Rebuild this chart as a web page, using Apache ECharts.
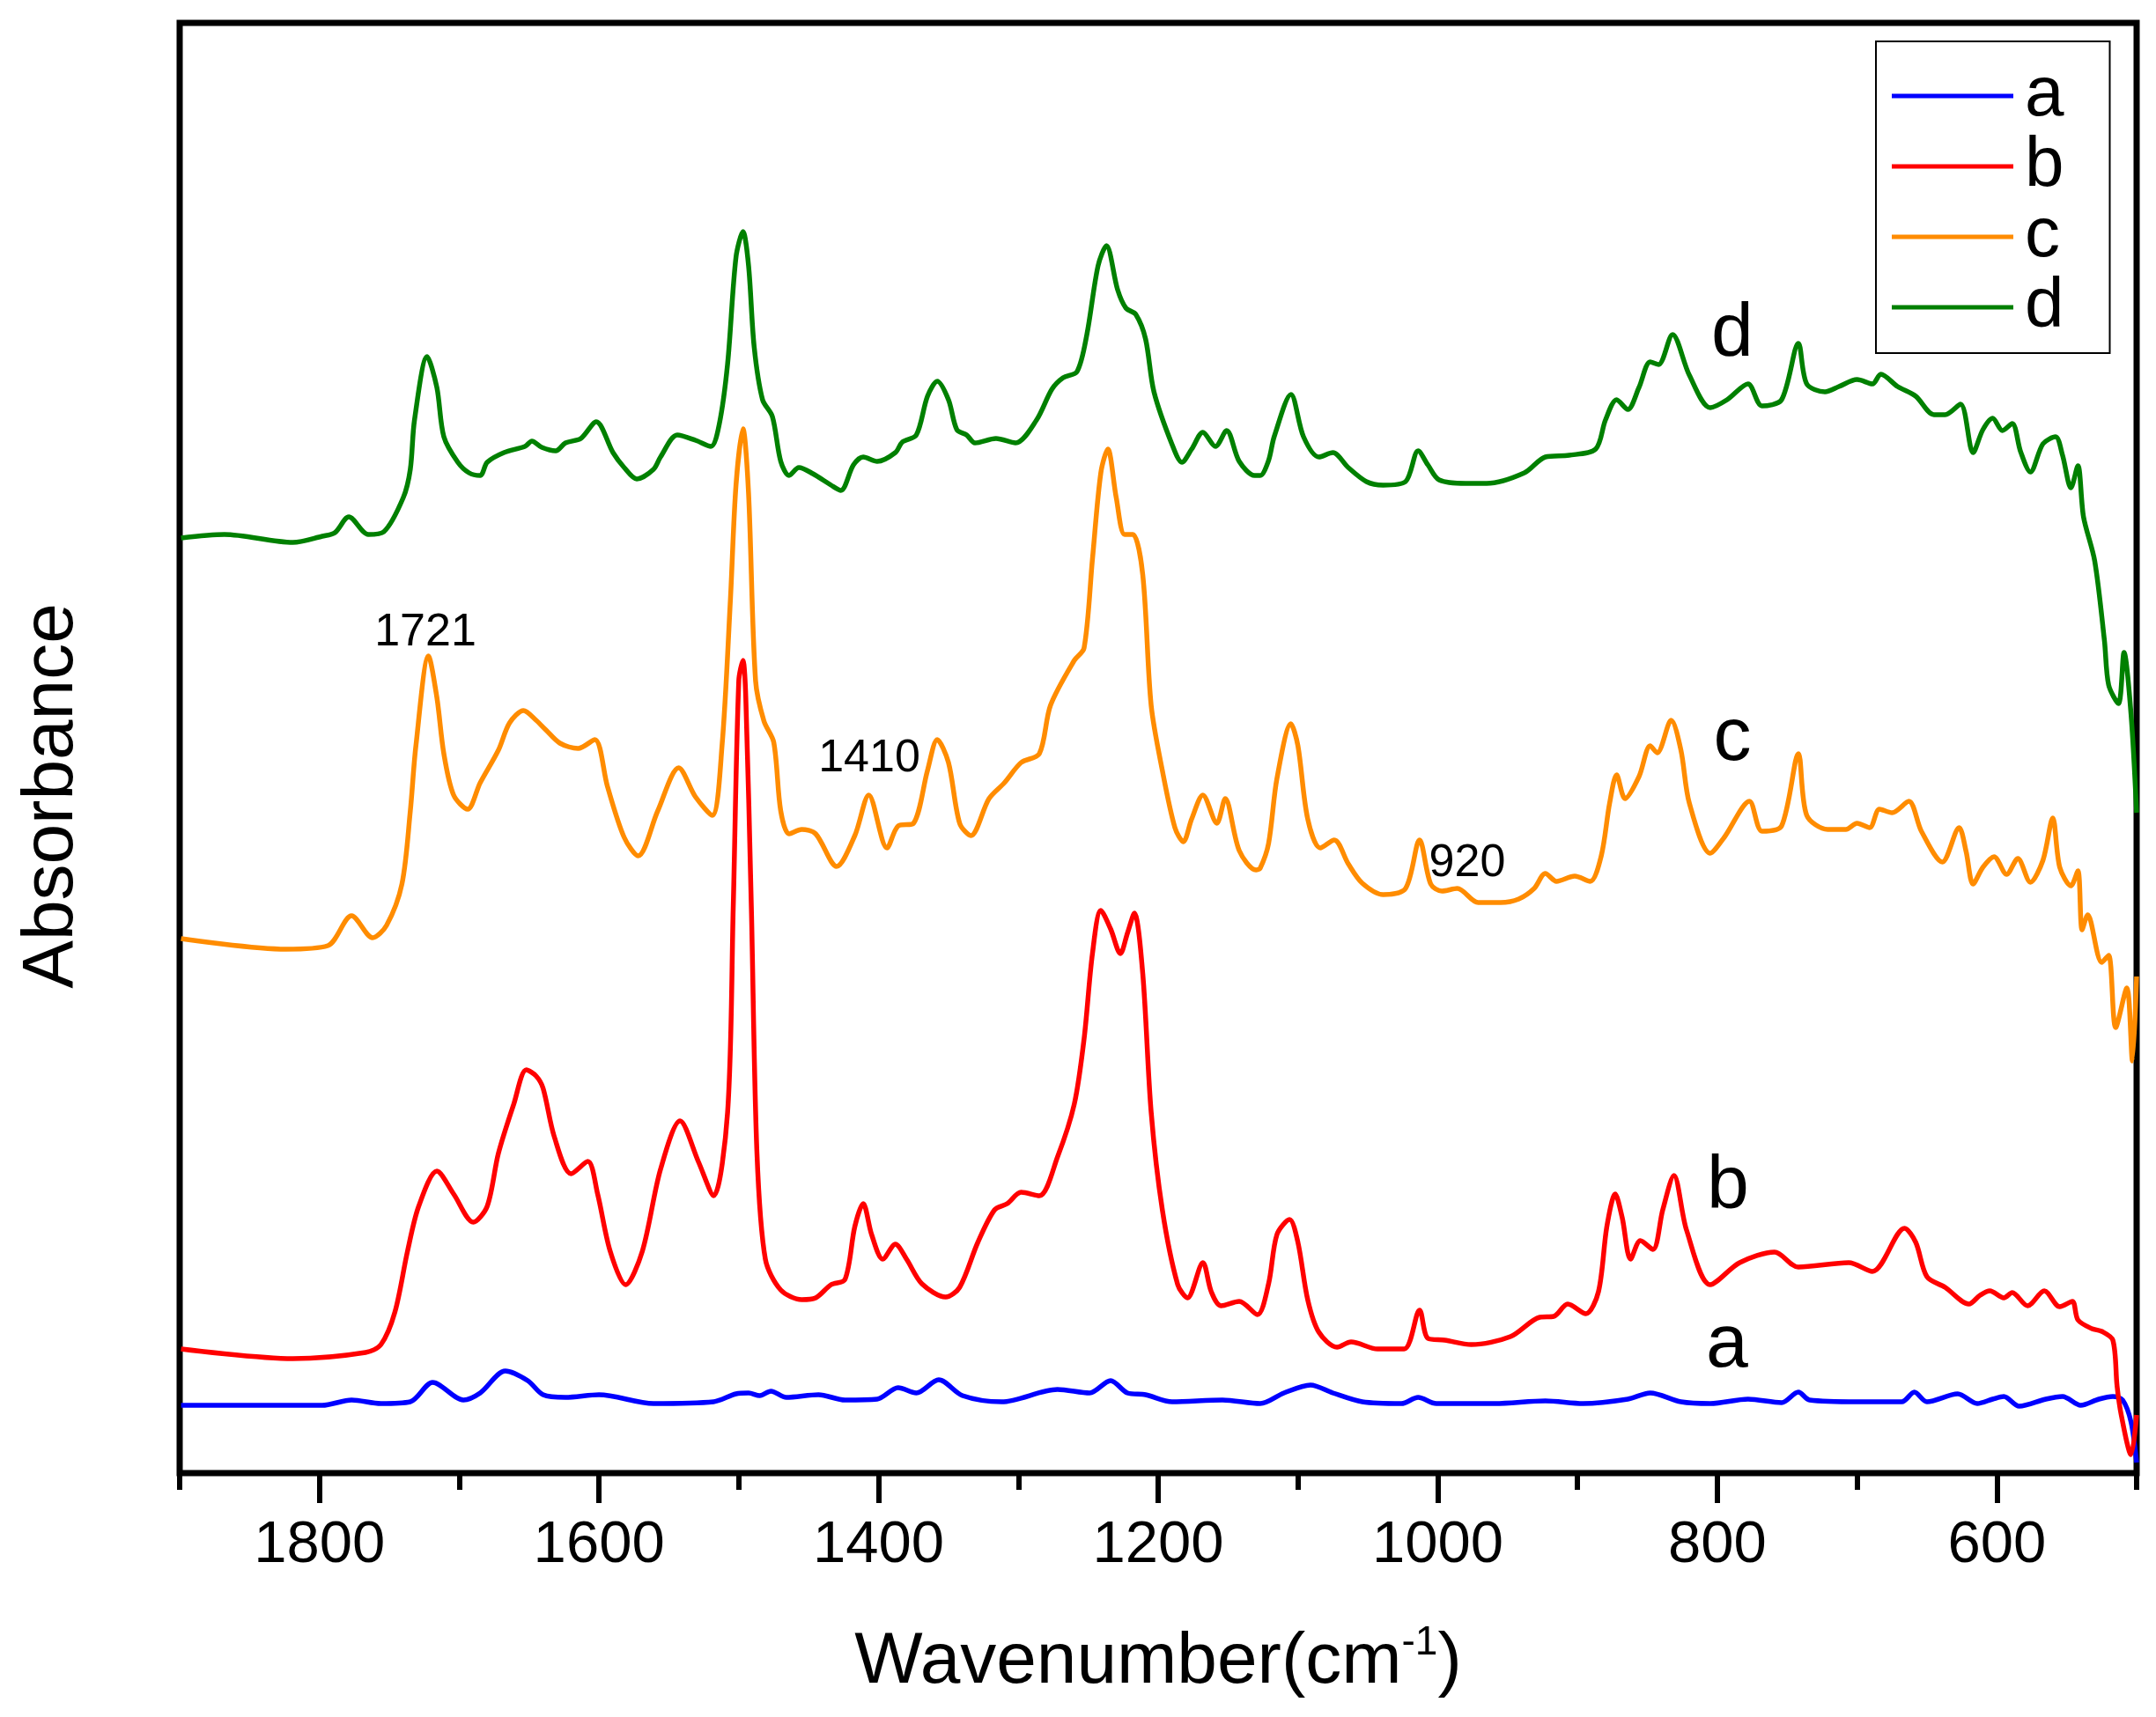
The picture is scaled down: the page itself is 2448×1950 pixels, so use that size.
<!DOCTYPE html>
<html>
<head>
<meta charset="utf-8">
<script src="https://cdn.jsdelivr.net/npm/echarts@6/dist/echarts.min.js"></script>
<style>html,body{margin:0;padding:0;background:#fff}#chart{width:2448px;height:1950px}</style>
</head>
<body>
<div id="chart"></div>
<script>
// ---- data (wavenumber cm-1, absorbance arbitrary units, offset traces) ----
const seriesNames = ['a', 'b', 'c', 'd'];
const seriesColors = ['#0000ff', '#ff0000', '#ff8c00', '#008000'];
const xTickLabels = [1800, 1600, 1400, 1200, 1000, 800, 600];
const xMinorTicks = [1900, 1700, 1500, 1300, 1100, 900, 700, 500];

const specA = [
[1899,0.077],[1798,0.077],[1777,0.083],[1756,0.079],[1735,0.081],[1719,0.103],[1697,0.083],[1685,0.091],
[1667,0.116],[1651,0.105],[1640,0.089],[1624,0.086],[1600,0.089],[1561,0.079],[1518,0.081],[1502,0.090],
[1493,0.091],[1485,0.088],[1477,0.093],[1466,0.086],[1443,0.089],[1424,0.083],[1401,0.084],[1386,0.097],
[1373,0.091],[1357,0.106],[1340,0.088],[1312,0.081],[1272,0.095],[1249,0.091],[1234,0.105],[1222,0.091],
[1209,0.089],[1190,0.081],[1154,0.083],[1127,0.079],[1110,0.091],[1091,0.100],[1075,0.091],[1054,0.081],
[1026,0.079],[1014,0.086],[1001,0.079],[959,0.079],[923,0.082],[896,0.079],[864,0.084],[848,0.091],
[826,0.081],[805,0.079],[778,0.084],[754,0.080],[742,0.092],[734,0.083],[700,0.081],[668,0.081],
[659,0.092],[650,0.081],[628,0.090],[614,0.079],[603,0.084],[595,0.087],[584,0.076],[565,0.084],
[553,0.087],[540,0.077],[527,0.084],[517,0.087],[510,0.083],[504,0.058],[500,0.012]
];

const specB = [
[1899,0.141],[1819,0.130],[1767,0.137],[1756,0.146],[1746,0.183],[1737,0.252],[1729,0.303],[1716,0.343],
[1704,0.317],[1690,0.285],[1680,0.303],[1672,0.363],[1661,0.419],[1652,0.458],[1645,0.451],[1640,0.437],
[1632,0.382],[1620,0.340],[1608,0.354],[1601,0.317],[1592,0.252],[1581,0.214],[1569,0.252],[1556,0.345],
[1542,0.400],[1529,0.354],[1518,0.315],[1508,0.410],[1504,0.641],[1500,0.900],[1497,0.923],[1495,0.881],
[1491,0.641],[1487,0.363],[1481,0.243],[1470,0.208],[1455,0.197],[1445,0.199],[1434,0.214],[1424,0.220],
[1417,0.280],[1411,0.306],[1405,0.271],[1397,0.243],[1388,0.260],[1380,0.243],[1369,0.215],[1352,0.200],
[1342,0.211],[1329,0.262],[1317,0.299],[1308,0.306],[1298,0.319],[1285,0.315],[1272,0.359],[1260,0.419],
[1253,0.493],[1247,0.590],[1241,0.639],[1234,0.618],[1227,0.590],[1222,0.613],[1217,0.636],[1211,0.567],
[1205,0.410],[1197,0.299],[1186,0.214],[1179,0.199],[1168,0.239],[1162,0.206],[1155,0.190],[1142,0.195],
[1129,0.180],[1121,0.215],[1115,0.271],[1106,0.288],[1100,0.262],[1093,0.197],[1085,0.160],[1072,0.143],
[1062,0.149],[1043,0.141],[1024,0.141],[1013,0.185],[1007,0.153],[995,0.151],[976,0.146],[948,0.155],
[927,0.177],[917,0.178],[907,0.192],[894,0.181],[885,0.206],[879,0.280],[873,0.317],[868,0.290],
[862,0.243],[855,0.264],[846,0.254],[839,0.299],[831,0.338],[822,0.276],[805,0.214],[784,0.239],
[759,0.251],[742,0.234],[706,0.239],[689,0.229],[666,0.278],[658,0.262],[650,0.223],[637,0.211],
[620,0.192],[612,0.202],[605,0.207],[595,0.199],[589,0.205],[578,0.190],[566,0.207],[555,0.189],
[546,0.195],[542,0.174],[532,0.164],[525,0.161],[517,0.151],[514,0.099],[511,0.066],[504,0.021],[500,0.066]
];

const specC = [
[1899,0.607],[1824,0.595],[1794,0.599],[1777,0.633],[1762,0.608],[1752,0.622],[1741,0.669],[1735,0.752],
[1731,0.826],[1722,0.928],[1716,0.881],[1711,0.817],[1704,0.770],[1694,0.754],[1685,0.784],[1672,0.821],
[1664,0.852],[1654,0.866],[1645,0.855],[1638,0.844],[1628,0.829],[1615,0.823],[1603,0.833],[1594,0.780],
[1582,0.722],[1572,0.701],[1558,0.752],[1543,0.801],[1531,0.768],[1519,0.747],[1512,0.826],[1506,0.992],
[1502,1.122],[1497,1.186],[1493,1.112],[1488,0.900],[1482,0.854],[1475,0.830],[1470,0.752],[1464,0.726],
[1455,0.731],[1445,0.726],[1430,0.689],[1417,0.724],[1407,0.770],[1394,0.710],[1386,0.735],[1375,0.738],
[1365,0.798],[1358,0.833],[1350,0.807],[1342,0.738],[1334,0.724],[1321,0.766],[1310,0.784],[1298,0.807],
[1285,0.817],[1277,0.872],[1260,0.923],[1253,0.937],[1247,1.038],[1241,1.136],[1236,1.163],[1230,1.108],
[1224,1.066],[1218,1.066],[1211,1.020],[1205,0.872],[1197,0.798],[1188,0.733],[1182,0.717],[1176,0.743],
[1168,0.770],[1158,0.738],[1152,0.766],[1142,0.707],[1130,0.685],[1127,0.687],[1121,0.715],[1115,0.789],
[1105,0.851],[1100,0.826],[1093,0.743],[1084,0.710],[1074,0.719],[1064,0.692],[1054,0.670],[1039,0.657],
[1023,0.664],[1013,0.719],[1005,0.669],[997,0.661],[986,0.664],[971,0.648],[955,0.648],[942,0.652],
[931,0.664],[923,0.681],[915,0.672],[902,0.678],[891,0.672],[883,0.701],[877,0.761],[872,0.793],
[866,0.766],[856,0.791],[848,0.826],[843,0.818],[833,0.855],[826,0.821],[820,0.761],[805,0.704],
[795,0.722],[777,0.763],[768,0.729],[754,0.735],[742,0.817],[736,0.747],[721,0.731],[708,0.731],
[700,0.738],[691,0.733],[684,0.754],[675,0.750],[663,0.763],[654,0.729],[639,0.694],[627,0.733],
[622,0.706],[617,0.669],[610,0.688],[602,0.700],[593,0.680],[585,0.698],[576,0.671],[567,0.696],
[560,0.744],[555,0.688],[547,0.667],[542,0.684],[539,0.617],[535,0.634],[525,0.580],[520,0.588],
[515,0.506],[507,0.551],[503,0.468],[500,0.564]
];

const specD = [
[1899,1.062],[1868,1.066],[1819,1.057],[1798,1.064],[1789,1.068],[1779,1.086],[1765,1.066],[1754,1.069],
[1740,1.108],[1735,1.140],[1732,1.196],[1723,1.268],[1716,1.233],[1711,1.177],[1701,1.148],[1693,1.136],
[1685,1.133],[1680,1.148],[1668,1.159],[1653,1.166],[1648,1.172],[1641,1.165],[1631,1.161],[1624,1.170],
[1613,1.175],[1602,1.194],[1590,1.159],[1582,1.142],[1573,1.129],[1561,1.140],[1556,1.154],[1544,1.179],
[1531,1.173],[1520,1.166],[1514,1.191],[1508,1.260],[1502,1.381],[1497,1.410],[1493,1.371],[1489,1.279],
[1483,1.219],[1476,1.200],[1470,1.149],[1464,1.133],[1457,1.142],[1447,1.135],[1434,1.122],[1427,1.116],
[1418,1.145],[1411,1.154],[1401,1.149],[1388,1.159],[1383,1.171],[1373,1.179],[1365,1.223],[1358,1.240],
[1350,1.219],[1344,1.185],[1337,1.179],[1331,1.170],[1316,1.175],[1302,1.170],[1287,1.196],[1276,1.231],
[1268,1.244],[1258,1.251],[1251,1.293],[1243,1.371],[1237,1.394],[1229,1.344],[1223,1.323],[1216,1.316],
[1209,1.288],[1203,1.228],[1190,1.168],[1183,1.148],[1176,1.163],[1168,1.182],[1159,1.166],[1151,1.184],
[1142,1.149],[1131,1.133],[1127,1.133],[1121,1.150],[1117,1.177],[1105,1.225],[1096,1.177],[1085,1.154],
[1075,1.159],[1064,1.142],[1051,1.126],[1039,1.122],[1023,1.126],[1014,1.161],[1007,1.145],[999,1.128],
[980,1.124],[965,1.124],[938,1.136],[923,1.154],[906,1.156],[887,1.163],[880,1.196],[872,1.219],
[864,1.208],[856,1.233],[848,1.262],[842,1.259],[832,1.293],[820,1.247],[805,1.210],[793,1.219],
[778,1.237],[768,1.212],[754,1.219],[742,1.283],[736,1.237],[723,1.228],[713,1.234],[700,1.242],
[689,1.237],[683,1.248],[671,1.234],[658,1.223],[645,1.202],[637,1.202],[626,1.214],[617,1.159],
[610,1.185],[603,1.198],[596,1.184],[589,1.192],[583,1.160],[576,1.137],[567,1.169],[558,1.177],
[553,1.156],[547,1.119],[542,1.144],[538,1.086],[530,1.036],[523,0.945],[520,0.895],[513,0.874],
[509,0.932],[504,0.862],[500,0.750]
];

const seriesData = [specA, specB, specC, specD];

// ---- chart ----
const FONT = '"Liberation Sans", Arial, Helvetica, sans-serif';
const chart = echarts.init(document.getElementById('chart'), null, {renderer: 'canvas'});
const gridRect = {left: 204, right: 22, top: 26, bottom: 277};

const option = {
  backgroundColor: '#ffffff',
  animation: false,
  grid: [
    Object.assign({show: true, borderColor: '#000', borderWidth: 7, backgroundColor: 'transparent'}, gridRect),
    Object.assign({show: false}, gridRect)
  ],
  xAxis: [
    {
      type: 'value', gridIndex: 0, min: 500, max: 1900, inverse: true, position: 'bottom',
      axisLine: {show: false},
      axisTick: {show: true, customValues: xTickLabels, length: 34, inside: false, lineStyle: {color: '#000', width: 6}},
      axisLabel: {show: true, customValues: xTickLabels, fontSize: 67, color: '#000', fontFamily: FONT, margin: 49,
                  formatter: function (v) { return String(v); }},
      splitLine: {show: false},
      name: '{m|Wavenumber(cm}{s|-1}{m|)}',
      nameLocation: 'middle', nameGap: 170,
      nameTextStyle: {
        rich: {
          m: {fontSize: 82, fontFamily: FONT, color: '#000', lineHeight: 90},
          s: {fontSize: 46, fontFamily: FONT, color: '#000', verticalAlign: 'top', lineHeight: 50}
        }
      }
    },
    {
      type: 'value', gridIndex: 1, min: 500, max: 1900, inverse: true, position: 'bottom',
      axisLine: {show: false},
      axisTick: {show: true, customValues: xMinorTicks, length: 19, inside: false, lineStyle: {color: '#000', width: 6}},
      axisLabel: {show: false},
      splitLine: {show: false}
    }
  ],
  yAxis: [
    {type: 'value', gridIndex: 0, min: 0, max: 1.647, show: false},
    {type: 'value', gridIndex: 1, min: 0, max: 1.647, show: false}
  ],
  legend: {
    data: seriesNames,
    orient: 'vertical',
    left: 2130, top: 47,
    icon: 'rect',
    itemWidth: 138, itemHeight: 5, itemGap: 0,
    padding: [22, 52, 12, 18],
    borderColor: '#000', borderWidth: 2,
    selectedMode: false,
    textStyle: {fontSize: 80, lineHeight: 78, color: '#000', fontFamily: FONT, padding: [0, 0, 0, 8]}
  },
  series: seriesNames.map((n, i) => ({
    name: n,
    type: 'line',
    xAxisIndex: 0, yAxisIndex: 0,
    data: seriesData[i],
    color: seriesColors[i],
    showSymbol: false, symbol: 'none',
    smooth: 0.3,
    lineStyle: {color: seriesColors[i], width: 5.5},
    itemStyle: {color: seriesColors[i]},
    z: 2 + i
  })),
  graphic: [
    {type: 'text', x: 59, y: 904, rotation: Math.PI / 2,
     style: {text: 'Absorbance', font: '82px ' + FONT, fill: '#000', align: 'center', verticalAlign: 'middle', textAlign: 'center', textVerticalAlign: 'middle'}},
    {type: 'text', x: 483, y: 719,
     style: {text: '1721', font: '52px ' + FONT, fill: '#000', align: 'center', verticalAlign: 'middle', textAlign: 'center', textVerticalAlign: 'middle'}},
    {type: 'text', x: 987, y: 862,
     style: {text: '1410', font: '52px ' + FONT, fill: '#000', align: 'center', verticalAlign: 'middle', textAlign: 'center', textVerticalAlign: 'middle'}},
    {type: 'text', x: 1666, y: 981,
     style: {text: '920', font: '52px ' + FONT, fill: '#000', align: 'center', verticalAlign: 'middle', textAlign: 'center', textVerticalAlign: 'middle'}},
    {type: 'text', x: 1967, y: 380,
     style: {text: 'd', font: '86px ' + FONT, fill: '#000', align: 'center', verticalAlign: 'middle', textAlign: 'center', textVerticalAlign: 'middle'}},
    {type: 'text', x: 1967, y: 839,
     style: {text: 'c', font: '86px ' + FONT, fill: '#000', align: 'center', verticalAlign: 'middle', textAlign: 'center', textVerticalAlign: 'middle'}},
    {type: 'text', x: 1962, y: 1348,
     style: {text: 'b', font: '86px ' + FONT, fill: '#000', align: 'center', verticalAlign: 'middle', textAlign: 'center', textVerticalAlign: 'middle'}},
    {type: 'text', x: 1961, y: 1528,
     style: {text: 'a', font: '86px ' + FONT, fill: '#000', align: 'center', verticalAlign: 'middle', textAlign: 'center', textVerticalAlign: 'middle'}}
  ]
};
chart.setOption(option);
</script>
</body>
</html>
